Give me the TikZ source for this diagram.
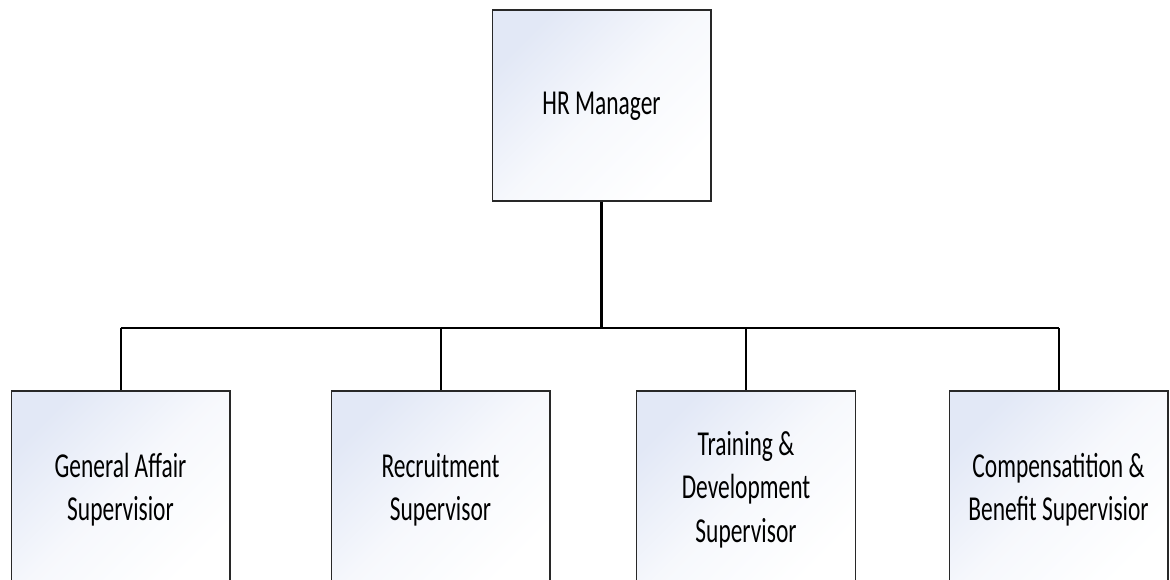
\documentclass[tikz,border=0pt]{standalone}
\usepackage{fontspec}
\setmainfont{Carlito}
\usepackage{graphicx}
\definecolor{boxtint}{RGB}{226,232,246}
\definecolor{boxline}{RGB}{40,40,40}
% condensed, centred label text
\newcommand{\orglabel}[1]{\scalebox{0.67}[1]{\fontsize{26.25}{32.5}\selectfont\begin{tabular}{@{}c@{}}#1\end{tabular}}}
\begin{document}
\begin{tikzpicture}[x=0.75pt,y=-0.75pt,
  orgbox/.style={draw=boxline,line width=1pt,rectangle,inner sep=0pt,
    top color=boxtint,bottom color=white,middle color=white!70!boxtint,shading angle=45,
    minimum width=164pt},
  topbox/.style={orgbox,minimum height=143.25pt},
  subbox/.style={orgbox,minimum height=148.5pt},
  busline/.style={line width=2.2pt,black},
  dropline/.style={line width=1.5pt,black}]
\useasboundingbox (0,0) rectangle (1170,579);
\clip (0,0) rectangle (1170,579);
\node[topbox] (hr) at (601.5,105.5) {\orglabel{HR Manager}};
\node[subbox] (ga) at (120.5,490) {\orglabel{General Affair\\Supervisior}};
\node[subbox] (rc) at (440.5,490) {\orglabel{Recruitment\\Supervisor}};
\node[subbox] (td) at (746,490) {\orglabel{Training \&\\Development\\Supervisor}};
\node[subbox] (cb) at (1058.5,490) {\orglabel{Compensatition \&\\Benefit Supervisior}};
\coordinate (bus) at (601.5,328);
\draw[busline] (hr.south) -- (bus);
\draw[busline] (ga.north |- bus) -- (cb.north |- bus);
\foreach \n in {ga,rc,td,cb}
  \draw[dropline] (\n.north |- bus) -- (\n.north);
\end{tikzpicture}
\end{document}
